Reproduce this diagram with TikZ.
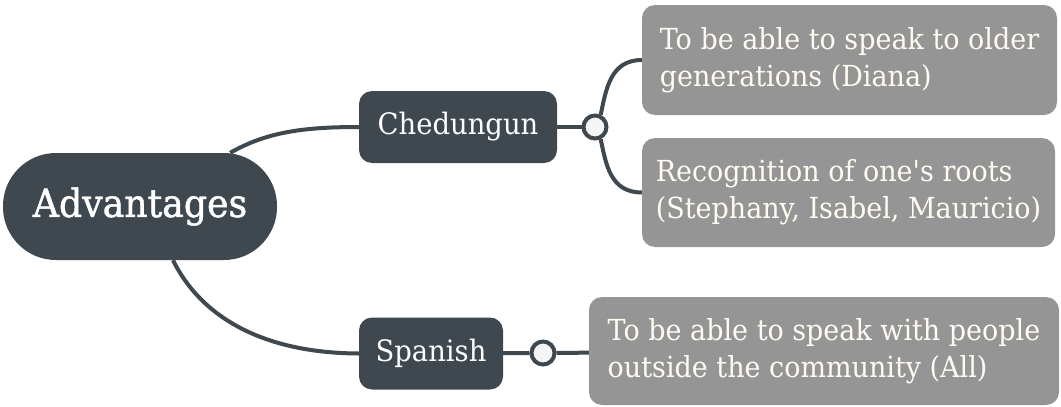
\documentclass[tikz,border=0pt]{standalone}
\usepackage{fontspec}
\newfontfamily\mapfont[FakeStretch=0.93]{DejaVu Serif}
\newfontfamily\rootfont[FakeStretch=0.93,FakeBold=1.2]{DejaVu Serif}
\definecolor{slate}{HTML}{3F474F}
\definecolor{leafgray}{HTML}{959595}
\definecolor{knotfill}{HTML}{F4F5F7}
\definecolor{leaftext}{HTML}{FFFBF2}
\begin{document}
\begin{tikzpicture}  % ------ advantages mind map -------------------
      [x=1pt,y=-1pt,
       topic/.style={fill=slate,text=white,rounded corners=13pt,minimum height=72pt,
                     inner sep=0pt,font=\mapfont\fontsize{29.5}{35}\selectfont},
       leaf/.style={fill=leafgray,text=leaftext,rounded corners=13pt,align=left,
                    inner sep=0pt,font=\mapfont\fontsize{29}{37}\selectfont},
       knot/.style={circle,draw=slate,line width=4pt,fill=knotfill,
                    minimum size=23pt,inner sep=0pt},
       branch/.style={draw=slate,line width=4pt}]
    \useasboundingbox (0,0) rectangle (1061,407);
    % main topic and the two languages
    \node[topic,minimum width=274pt,minimum height=107pt,rounded corners=53pt,
          font=\rootfont\fontsize{39}{45}\selectfont] (adv) at (140,206.5) {Advantages};
    \node[topic,minimum width=198pt] (ched) at (458,127) {Chedungun};
    \node[topic,minimum width=144pt] (span) at (431,353.5) {Spanish};
    \node[knot] (k1) at (595,127) {};
    \node[knot] (k2) at (543,353) {};
    % reasons
    \node[leaf,minimum width=415pt,minimum height=110pt] (gen) at (849.5,60)
         {To be able to speak to older\\generations (Diana)};
    \node[leaf,minimum width=413pt,minimum height=109pt] (roots) at (848.5,192.5)
         {Recognition of one's roots\\(Stephany, Isabel, Mauricio)};
    \node[leaf,minimum width=470pt,minimum height=108pt] (out) at (824,351)
         {To be able to speak with people\\outside the community (All)};
    % branches
    \draw[branch] ([xshift=-47pt]adv.north east) .. controls (265,133) and (300,127) .. (ched.west);
    \draw[branch] ([xshift=33pt]adv.south) .. controls (200,315) and (260,353) .. (span.west);
    \draw[branch] (ched) -- (k1);
    \draw[branch] (span) -- (k2);
    \draw[branch] (k1.65) .. controls (606,90) and (610,60) .. (gen.west);
    \draw[branch] (k1.-65) .. controls (606,164) and (610,192.5) .. (roots.west);
    \draw[branch] (k2) -- (out);
\end{tikzpicture}
\end{document}
